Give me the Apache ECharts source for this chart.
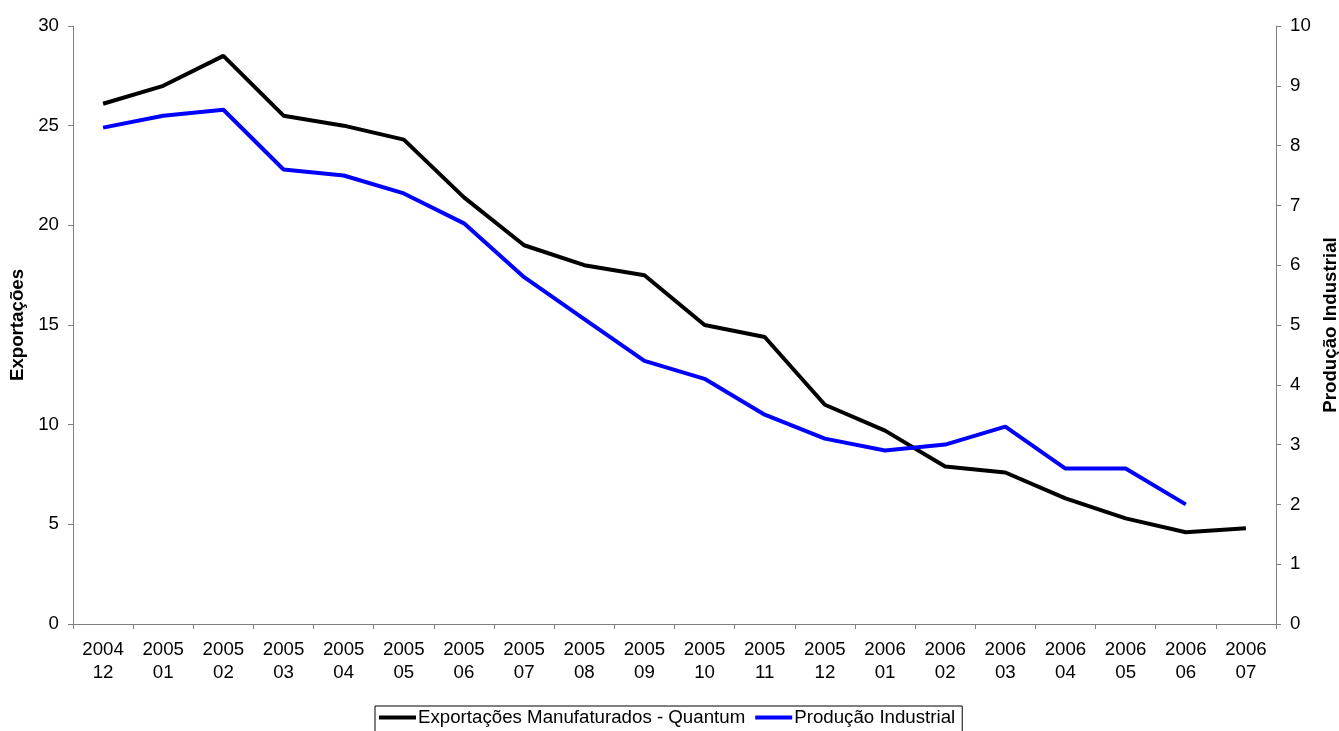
<!DOCTYPE html>
<html>
<head>
<meta charset="utf-8">
<script src="https://cdn.jsdelivr.net/npm/echarts@6/dist/echarts.min.js"></script>
<style>
  html, body { margin: 0; padding: 0; background: #fff; }
  #chart { width: 1339px; height: 731px; }
</style>
</head>
<body>
<div id="chart"></div>
<script>
var meses = ['2004\n12', '2005\n01', '2005\n02', '2005\n03', '2005\n04', '2005\n05', '2005\n06',
  '2005\n07', '2005\n08', '2005\n09', '2005\n10', '2005\n11', '2005\n12', '2006\n01',
  '2006\n02', '2006\n03', '2006\n04', '2006\n05', '2006\n06', '2006\n07'];
// Exportações Manufaturados - Quantum (eixo esquerdo)
var exportacoes = [26.1, 27.0, 28.5, 25.5, 25.0, 24.3, 21.4, 19.0, 18.0, 17.5, 15.0, 14.4,
  11.0, 9.7, 7.9, 7.6, 6.3, 5.3, 4.6, 4.8];
// Produção Industrial (eixo direito)
var producao = [8.3, 8.5, 8.6, 7.6, 7.5, 7.2, 6.7, 5.8, 5.1, 4.4, 4.1, 3.5,
  3.1, 2.9, 3.0, 3.3, 2.6, 2.6, 2.0, null];

var fonte = 'Liberation Sans, Arial, sans-serif';
var tam = 18.7;
var myChart = echarts.init(document.getElementById('chart'));

var option = {
  animation: false,
  backgroundColor: '#fff',
  textStyle: { fontFamily: fonte },
  grid: { left: 73, right: 63, top: 26, bottom: 107, outerBoundsMode: 'none' },
  legend: {
    left: 375,
    top: 706,
    borderColor: '#000',
    borderWidth: 1,
    padding: [2, 7, 10, 4],
    itemGap: 10,
    itemWidth: 37,
    itemHeight: 4,
    icon: 'rect',
    textStyle: { fontSize: tam, color: '#000', fontFamily: fonte, padding: [0, 0, 0, -3] },
    data: ['Exportações Manufaturados - Quantum', 'Produção Industrial']
  },
  xAxis: {
    type: 'category',
    data: meses,
    boundaryGap: true,
    axisLine: { lineStyle: { color: '#808080', width: 1 } },
    axisTick: { show: true, length: 5, lineStyle: { color: '#808080' } },
    axisLabel: { fontSize: tam, color: '#000', lineHeight: 23, margin: 14, interval: 0 }
  },
  yAxis: [
    {
      type: 'value',
      min: 0, max: 30, interval: 5,
      name: 'Exportações',
      nameLocation: 'middle',
      nameGap: 46,
      nameTextStyle: { fontSize: tam, fontWeight: 'bold', color: '#000' },
      axisLine: { show: true, lineStyle: { color: '#808080' } },
      axisTick: { show: true, length: 5, lineStyle: { color: '#808080' } },
      axisLabel: { fontSize: tam, color: '#000', margin: 14 },
      splitLine: { show: false }
    },
    {
      type: 'value',
      min: 0, max: 10, interval: 1,
      name: 'Produção Industrial',
      nameLocation: 'middle',
      nameGap: 43,
      nameTextStyle: { fontSize: tam, fontWeight: 'bold', color: '#000' },
      axisLine: { show: true, lineStyle: { color: '#808080' } },
      axisTick: { show: true, inside: false, length: 5, lineStyle: { color: '#808080' } },
      axisLabel: { fontSize: tam, color: '#000', margin: 14 },
      splitLine: { show: false }
    }
  ],
  series: [
    {
      name: 'Exportações Manufaturados - Quantum',
      type: 'line',
      yAxisIndex: 0,
      symbol: 'none',
      data: exportacoes,
      itemStyle: { color: '#000' },
      lineStyle: { color: '#000', width: 4 }
    },
    {
      name: 'Produção Industrial',
      type: 'line',
      yAxisIndex: 1,
      symbol: 'none',
      data: producao,
      itemStyle: { color: '#0000ff' },
      lineStyle: { color: '#0000ff', width: 4 }
    }
  ]
};

myChart.setOption(option);
</script>
</body>
</html>
